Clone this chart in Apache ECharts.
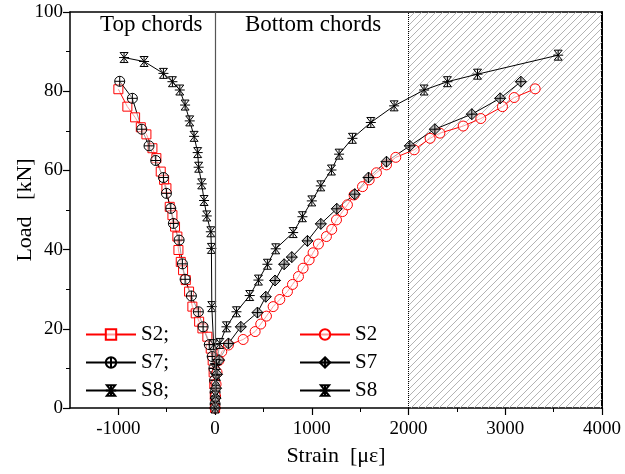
<!DOCTYPE html>
<html><head><meta charset="utf-8">
<script src="https://cdn.jsdelivr.net/npm/echarts@6/dist/echarts.min.js"></script>
<style>html,body{margin:0;padding:0;background:#fff}#c{width:625px;height:474px}</style>
</head><body><div id="c"></div>
<script>
// ---- data ----
const xTickLabels = [-1000, 0, 1000, 2000, 3000, 4000];
const xMinorTicks = [-500, 500, 1500, 2500, 3500];
const topS2x = [-1000,-907,-827,-768,-710,-648,-607,-562,-527,-503,-469,-441,-414,-390,-379,-355,-331,-303,-269,-235,-200,-165,-131,-80,-45,-25,-15,-8,-3,0];
const topS2y = [80.5,76.1,73.4,70.9,69.1,65.6,63.1,59.7,57.6,55.5,50.8,48.7,45.8,43.3,39.9,36.9,34.8,32.3,29.4,25.6,23.9,21.8,20.1,18,15,12,9,6,3,0];
const topS7x = [-986,-855,-758,-683,-614,-534,-503,-458,-431,-372,-338,-310,-245,-173,-124,-60,-30,-12,-5,0,0];
const topS7y = [82.5,78.2,70.4,66.2,62.5,58.2,54.2,50.4,46.6,42.4,36.4,32.5,28.3,24.3,20.5,16,13,10,7,4,1];
const topS8x = [-941,-734,-534,-441,-365,-310,-262,-217,-180,-170,-138,-114,-86,-44,-38,-34,-15,-8,-4,0];
const topS8y = [88.5,87.5,84.5,82.4,80.3,76.5,72.5,68.6,64.5,60.8,56.6,52.4,48.5,44.5,40.3,25.6,16,10,5,1];
const botS2x = [0,5,10,20,40,69,138,290,414,472,531,600,669,748,800,862,910,972,1013,1068,1151,1206,1255,1317,1368,1437,1524,1593,1668,1772,1868,2058,2223,2324,2565,2747,2971,3092,3309];
const botS2y = [0,3,6,9,12,14.2,15.9,17.3,19.3,21.2,23.2,25.6,27.4,29.4,31.2,33.2,35.3,37.4,39.2,41.4,43.3,45.1,47.5,49.6,51.3,53.8,55.9,57.6,59.4,61.4,63.3,65.2,68.1,69.4,71.2,73.1,76.1,78.4,80.6];
const botS7x = [0,5,10,20,41,138,266,438,524,620,714,793,955,1093,1258,1444,1586,1772,2013,2272,2654,2947,3161];
const botS7y = [0,2.5,5,8.5,12.1,16.3,20.5,24.1,28.1,32.2,36.3,38.1,42.2,46.5,50.3,54,58.2,62.2,66.2,70.4,74.2,78.2,82.4];
const botS8x = [0,3,8,15,49,117,221,358,448,541,627,807,903,1000,1093,1203,1282,1420,1610,1851,2161,2402,2713,3547];
const botS8y = [0,3,7,11,16.3,20.5,24.3,28.4,32.3,36.3,40.2,44.3,48.3,52.3,56.1,60.1,64.1,68.1,72.1,76.3,80.3,82.4,84.3,89.1];
const hatchRange = [2000, 4000];
const zeroLine = 0;

function zip(xs, ys){ return xs.map((x,i)=>[x, ys[i]]); }

// hatch pattern
const pc = document.createElement('canvas');
pc.width = 7; pc.height = 7;
const g = pc.getContext('2d');
g.strokeStyle = '#aaa'; g.lineWidth = 0.9;
g.beginPath();
g.moveTo(-1,8); g.lineTo(8,-1);
g.moveTo(-1,1); g.lineTo(1,-1);
g.moveTo(6,8); g.lineTo(8,6);
g.stroke();

const FONT = '"Liberation Serif", "DejaVu Serif", serif';
const symCirclePlus = 'path://M10,0 A10,10 0 1,1 -10,0 A10,10 0 1,1 10,0 Z M-10,0 L10,0 M0,-10 L0,10';
const symHour = 'path://M-8,-9 L8,-9 L-8,9 L8,9 Z M-10,0 L10,0 M0,-9 L0,9';
const symDiamondPlus = 'path://M0,-10 L10,0 L0,10 L-10,0 Z M-10,0 L10,0 M0,-10 L0,10';

function mk(name, xs, ys, color, symbol, size, fill){
  return {
    name, type:'line', data: zip(xs, ys),
    symbol, symbolSize: size,
    lineStyle:{color, width:1},
    itemStyle:{color: fill, borderColor: color, borderWidth:1},
    emphasis:{disabled:true},
    animation:false, z: 3
  };
}

const series = [
  mk('S2;', topS2x, topS2y, '#ff0000', 'rect', 9, 'rgba(255,255,255,0.6)'),
  mk('S7;', topS7x, topS7y, '#000', symCirclePlus, 10, 'rgba(255,255,255,0.5)'),
  mk('S8;', topS8x, topS8y, '#000', symHour, 10, 'rgba(235,235,235,0.5)'),
  mk('S2', botS2x, botS2y, '#ff0000', 'circle', 10, 'rgba(255,255,255,0.6)'),
  mk('S7', botS7x, botS7y, '#000', symDiamondPlus, 11, 'rgba(170,170,170,0.7)'),
  mk('S8', botS8x, botS8y, '#000', symHour, 10, 'rgba(235,235,235,0.5)')
];
series[5].markArea = {
  silent:true,
  itemStyle:{color:{image: pc, repeat:'repeat'}},
  data:[[{xAxis: hatchRange[0]},{xAxis: hatchRange[1]}]]
};
series[5].markLine = {
  silent:true, symbol:['none','none'], label:{show:false},
  data:[
    {xAxis: zeroLine, lineStyle:{color:'#555', width:1.2, type:'solid'}},
    {xAxis: hatchRange[0], lineStyle:{color:'#000', width:1, type:[1,1]}}
  ]
};

const chart = echarts.init(document.getElementById('c'), null, {renderer:'canvas'});
chart.setOption({
  animation:false,
  backgroundColor:'#fff',
  grid:{left:70, right:23, top:12, bottom:66},
  textStyle:{fontFamily:FONT},
  xAxis:[
    {type:'value', min:-1500, max:4000, position:'bottom',
     axisLine:{show:true, onZero:false, lineStyle:{color:'#000', width:1.5}},
     axisTick:{show:true, customValues:xTickLabels, length:7, lineStyle:{color:'#000', width:1.2}},
     axisLabel:{customValues:xTickLabels, color:'#000', fontSize:19, fontFamily:FONT, margin:12,
                formatter:(v)=>String(v)},
     splitLine:{show:false},
     name:'Strain  [\u03bc\u03b5]', nameLocation:'middle', nameGap:37, nameMoveOverlap:false,
     nameTextStyle:{color:'#000', fontSize:22, fontFamily:FONT}},
    {type:'value', min:-1500, max:4000, position:'bottom', gridIndex:0,
     axisLine:{show:false, onZero:false},
     axisTick:{show:true, customValues:xMinorTicks, length:4, lineStyle:{color:'#000', width:1}},
     axisLabel:{show:false}, splitLine:{show:false}},
    {type:'value', min:-1500, max:4000, position:'top', gridIndex:0,
     axisLine:{show:true, onZero:false, lineStyle:{color:'#000', width:1.5}},
     axisTick:{show:false}, axisLabel:{show:false}, splitLine:{show:false}}
  ],
  yAxis:[
    {type:'value', min:0, max:100, interval:20, position:'left',
     axisLine:{show:true, onZero:false, lineStyle:{color:'#000', width:1.5}},
     axisTick:{show:true, length:7, lineStyle:{color:'#000', width:1.2}},
     minorTick:{show:true, splitNumber:2, length:4, lineStyle:{color:'#000', width:1}},
     axisLabel:{color:'#000', fontSize:19, fontFamily:FONT, margin:7},
     splitLine:{show:false},
     name:'Load   [kN]', nameLocation:'middle', nameGap:34, nameRotate:90, nameMoveOverlap:false,
     nameTextStyle:{color:'#000', fontSize:22, fontFamily:FONT}},
    {type:'value', min:0, max:100, position:'right',
     axisLine:{show:true, onZero:false, lineStyle:{color:'#000', width:2}},
     axisTick:{show:false}, axisLabel:{show:false}, splitLine:{show:false}}
  ],
  legend:[
    {data:['S2;','S7;','S8;'], orient:'vertical', left:80, top:319,
     itemWidth:50, itemHeight:13, itemGap:7,
     textStyle:{fontSize:21, fontFamily:FONT, color:'#000', lineHeight:20},
     selectedMode:false},
    {data:['S2','S7','S8'], orient:'vertical', left:294, top:319,
     itemWidth:50, itemHeight:13, itemGap:7,
     textStyle:{fontSize:21, fontFamily:FONT, color:'#000', lineHeight:20},
     selectedMode:false}
  ],
  graphic:[
    {type:'text', left:100, top:13, style:{text:'Top chords', font:'23px '+FONT, fill:'#000'}},
    {type:'text', left:245, top:13, style:{text:'Bottom chords', font:'23px '+FONT, fill:'#000'}}
  ],
  series
});
</script></body></html>
